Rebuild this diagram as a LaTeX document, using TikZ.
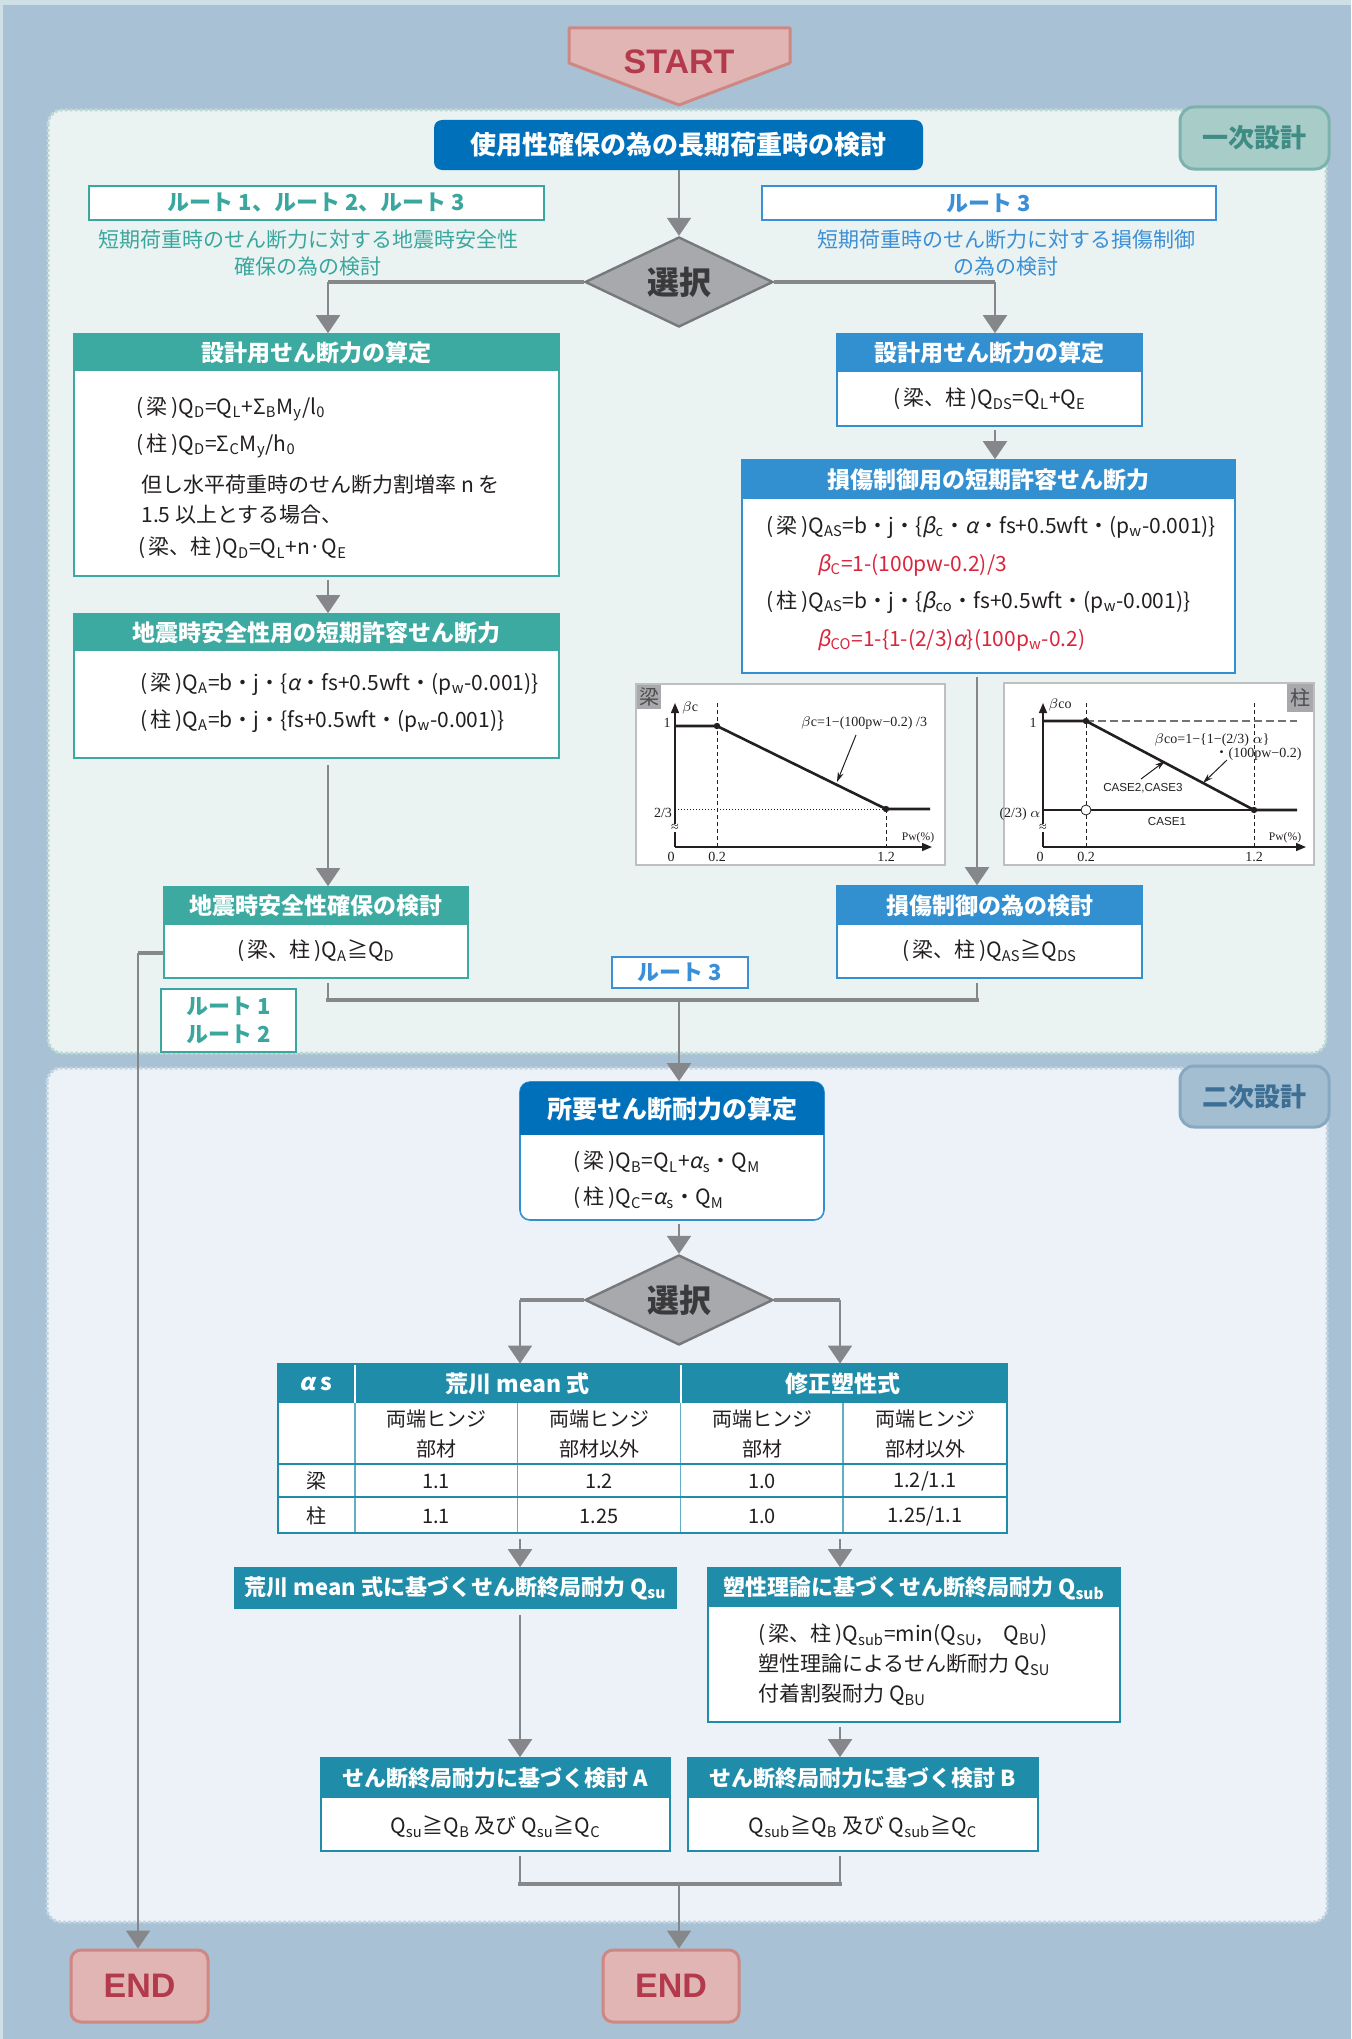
\documentclass[tikz,border=0pt]{standalone}
\usepackage{fontspec}
\setmainfont{Noto Sans CJK JP}
\newfontfamily\jpit[FakeSlant=0.2]{Noto Sans CJK JP}
\newfontfamily\gser{Liberation Serif}
\newfontfamily\lsans{Liberation Sans}
\usetikzlibrary{shapes.geometric,arrows.meta,fit,calc}
\newcommand\sbs[1]{\textsubscript{#1}}
\newcommand\gk[1]{{\jpit #1}}
\definecolor{bgc}{HTML}{A9C1D4}
\definecolor{bgtop}{HTML}{CEDFE6}
\definecolor{sec1}{HTML}{EAF3F2}
\definecolor{sec1b}{HTML}{BCD9D5}
\definecolor{sec2}{HTML}{ECF2F7}
\definecolor{sec2b}{HTML}{C3D5E2}
\definecolor{tealh}{HTML}{3DAAA2}
\definecolor{tealt}{HTML}{3AA79E}
\definecolor{blueh}{HTML}{3390D0}
\definecolor{bluet}{HTML}{3A8FD6}
\definecolor{dblue}{HTML}{0070BA}
\definecolor{tbh}{HTML}{1F8CA9}
\definecolor{arr}{HTML}{86878A}
\definecolor{dia}{HTML}{A7A9AC}
\definecolor{diab}{HTML}{77787B}
\definecolor{dtxt}{HTML}{3A3A3C}
\definecolor{pinkf}{HTML}{E0B5B3}
\definecolor{pinkb}{HTML}{CF8783}
\definecolor{pinkt}{HTML}{B23A4C}
\definecolor{lab1f}{HTML}{A8CCC8}
\definecolor{lab1b}{HTML}{7BB3AC}
\definecolor{lab1t}{HTML}{3F8C85}
\definecolor{lab2f}{HTML}{A4BED1}
\definecolor{lab2b}{HTML}{86A8C1}
\definecolor{lab2t}{HTML}{3D6E94}
\definecolor{redf}{HTML}{D7263D}
\definecolor{txt}{HTML}{231F20}
\definecolor{graybox}{HTML}{A7A9AC}
\newcommand\dbox[7]{%
  \node[fit={(#2,#3)(#4,#5)},inner sep=0pt,fill=white,draw=#7,line width=0.8pt] (#1) {};
  \fill[#7] (#2,#3) rectangle (#4,#6);}
\begin{document}
\begin{tikzpicture}[x=0.5pt,y=-0.5pt,
  conn/.style={draw=arr,line width=1pt},
  arrow/.style={conn,-{Triangle[width=12pt,length=9pt]}},
  bar/.style={draw=arr,line width=2pt},
  hdrtxt/.style={text=white,font=\bfseries\fontsize{11.5}{13}\selectfont},
  bt/.style={anchor=west,inner sep=0pt,text=txt,font=\fontsize{10.5}{12}\selectfont},
  ct/.style={inner sep=0pt,text=txt,font=\fontsize{10.5}{12}\selectfont},
  gt/.style={inner sep=0pt,font=\gser\fontsize{7}{8}\selectfont,text=txt},
  gs/.style={inner sep=0pt,font=\lsans\fontsize{5.8}{6.5}\selectfont,text=txt},
  gline/.style={line width=1.3pt,draw=txt},
  gdash/.style={draw=txt,line width=0.4pt,dash pattern=on 2pt off 1.5pt},
  gax/.style={draw=txt,line width=0.7pt,-{Triangle[width=4pt,length=5pt]}},
  gann/.style={draw=txt,line width=0.5pt,-{Stealth[length=5pt,width=3pt]}},
  rlab/.style={inner sep=0pt,fill=white,line width=1.2pt},
  rtxt/.style={inner sep=0pt,font=\bfseries\fontsize{11}{14}\selectfont,align=center},
  tcell/.style={inner sep=0pt,text=txt,font=\fontsize{10}{15}\selectfont,align=center},
  dia/.style={diamond,shape aspect=2,inner sep=0pt,minimum width=94pt,minimum height=45pt,fill=dia,draw=diab,line width=1.2pt,text=dtxt,font=\bfseries\fontsize{16}{16}\selectfont},
  endbox/.style={inner sep=0pt,fill=pinkf,draw=pinkb,line width=1.5pt,rounded corners=5pt},
  endtxt/.style={text=pinkt,font=\lsans\bfseries\fontsize{17}{17}\selectfont}
  ]
\useasboundingbox (0,0) rectangle (1351,2039);
\fill[bgc] (0,0) rectangle (1351,2039);
\fill[bgtop] (0,0) rectangle (1351,5);
\fill[bgtop] (0,0) rectangle (3,2039);
% panels
\path[fill=sec1,draw=sec1b,line width=1.5pt,dash pattern=on 1.5pt off 1pt,rounded corners=7pt] (48,110) rectangle (1326,1053);
\path[fill=sec2,draw=sec2b,line width=1.5pt,dash pattern=on 1.5pt off 1pt,rounded corners=7pt] (47,1068) rectangle (1327,1922);
\node[fit={(1180,107)(1329,169)},inner sep=0pt,fill=lab1f,draw=lab1b,line width=1.5pt,rounded corners=7pt] (lab1) {};
\node[text=lab1t,font=\bfseries\fontsize{13}{15}\selectfont] (lab1t) at (lab1.center) {一次設計};
\node[fit={(1180,1066)(1329,1127)},inner sep=0pt,fill=lab2f,draw=lab2b,line width=1.5pt,rounded corners=7pt] (lab2) {};
\node[text=lab2t,font=\bfseries\fontsize{13}{15}\selectfont] (lab2t) at (lab2.center) {二次設計};
% START
\path[fill=pinkf,draw=pinkb,line width=1.5pt,line join=round] (569,28) -- (790,28) -- (790,63) -- (679,105) -- (569,63) -- cycle;
\node[text=pinkt,font=\lsans\bfseries\fontsize{17}{17}\selectfont] (start) at (679,62) {START};
% main header
\node[fit={(434,120)(923,170)},inner sep=0pt,fill=dblue,rounded corners=4pt] (hdr) {};
\node[text=white,font=\bfseries\fontsize{13}{15}\selectfont] (hdrt) at (hdr.center) {使用性確保の為の長期荷重時の検討};
% route labels
\node[rlab,fit={(89,186)(544,220)},draw=tealt] (rl1) {};
\node[rtxt,text=tealt] (rl1t) at (rl1.center) {ルート 1、ルート 2、ルート 3};
\node[rlab,fit={(762,186)(1216,220)},draw=bluet] (rl2) {};
\node[rtxt,text=bluet] (rl2t) at (rl2.center) {ルート 3};
\node[text=tealt,font=\fontsize{10.5}{13.5}\selectfont,align=center,inner sep=0pt] (ds1) at (308,253) {短期荷重時のせん断力に対する地震時安全性\\確保の為の検討};
\node[text=bluet,font=\fontsize{10.5}{13.5}\selectfont,align=center,inner sep=0pt] (ds2) at (1006,253) {短期荷重時のせん断力に対する損傷制御\\の為の検討};
\node[dia] (d1) at (679,282) {選択};
% left column
\dbox{lb1}{74}{334}{559}{576}{371}{tealh}
\node[hdrtxt] (lb1h) at (316.5,352.5) {設計用せん断力の算定};
\node[bt] (lb1a) at (136,409) {(\,梁\,)Q\sbs{D}=Q\sbs{L}+Σ\sbs{B}M\sbs{y}/l\sbs{0}};
\node[bt] (lb1b) at (136,446) {(\,柱\,)Q\sbs{D}=Σ\sbs{C}M\sbs{y}/h\sbs{0}};
\node[bt] (lb1c) at (141,485) {但し水平荷重時のせん断力割増率 n を};
\node[bt] (lb1d) at (141,515) {1.5 以上とする場合、};
\node[bt] (lb1e) at (138,548) {(\,梁、柱\,)Q\sbs{D}=Q\sbs{L}+n·Q\sbs{E}};
\dbox{lb2}{74}{614}{559}{758}{651}{tealh}
\node[hdrtxt] (lb2h) at (316.5,632.5) {地震時安全性用の短期許容せん断力};
\node[bt] (lb2a) at (140,684) {(\,梁\,)Q\sbs{A}=b・j・\{\gk{α}・fs+0.5wft・(p\sbs{w}-0.001)\}};
\node[bt] (lb2b) at (140,721) {(\,柱\,)Q\sbs{A}=b・j・\{fs+0.5wft・(p\sbs{w}-0.001)\}};
\dbox{lb3}{164}{887}{468}{978}{925}{tealh}
\node[hdrtxt] (lb3h) at (316,906) {地震時安全性確保の検討};
\node[ct] (lb3a) at (316,951) {(\,梁、柱\,)Q\sbs{A}≧Q\sbs{D}};
% right column
\dbox{rb1}{837}{334}{1142}{426}{372}{blueh}
\node[hdrtxt] (rb1h) at (989.5,353) {設計用せん断力の算定};
\node[ct] (rb1a) at (989.5,399) {(\,梁、柱\,)Q\sbs{DS}=Q\sbs{L}+Q\sbs{E}};
\dbox{rb2}{742}{460}{1235}{673}{499}{blueh}
\node[hdrtxt] (rb2h) at (988.5,479.5) {損傷制御用の短期許容せん断力};
\node[bt] (rb2a) at (766,527) {(\,梁\,)Q\sbs{AS}=b・j・\{\gk{β}\sbs{c}・\gk{α}・fs+0.5wft・(p\sbs{w}-0.001)\}};
\node[bt,text=redf] (rb2b) at (817,565) {\gk{β}\sbs{C}=1-(100pw-0.2)/3};
\node[bt] (rb2c) at (766,602) {(\,柱\,)Q\sbs{AS}=b・j・\{\gk{β}\sbs{co}・fs+0.5wft・(p\sbs{w}-0.001)\}};
\node[bt,text=redf] (rb2d) at (817,640) {\gk{β}\sbs{CO}=1-\{1-(2/3)\gk{α}\}(100p\sbs{w}-0.2)};
\dbox{rb3}{837}{886}{1142}{978}{925}{blueh}
\node[hdrtxt] (rb3h) at (989.5,905.5) {損傷制御の為の検討};
\node[ct] (rb3a) at (989.5,951) {(\,梁、柱\,)Q\sbs{AS}≧Q\sbs{DS}};
\node[rlab,fit={(612,957)(748,988)},draw=bluet] (rl3) {};
\node[rtxt,text=bluet] (rl3t) at (rl3.center) {ルート 3};
\node[rlab,fit={(161,989)(296,1052)},draw=tealt] (rl4) {};
\node[rtxt,text=tealt] (rl4t) at (rl4.center) {ルート 1\\ルート 2};
% graph 1 (beam)
\node[fit={(636,684)(945,865)},inner sep=0pt,fill=white,draw=black!25,line width=1pt] (g1) {};
\node[fit={(637,685)(661,709)},inner sep=0pt,fill=graybox] (g1t) {};
\node[text=txt!80,font=\fontsize{10}{10}\selectfont,inner sep=0pt] (g1tt) at (g1t.center) {梁};
\draw[gdash] (717,703) -- (717,847);
\draw[draw=txt,line width=0.5pt,densely dotted] (675,809) -- (886,809);
\draw[gdash] (886,809) -- (886,847);
\draw[gax] (675,847) -- (675,703);
\draw[gax] (675,847) -- (932,847);
\draw[gline] (675,726) -- (717,726) -- (886,809) -- (930,809);
\fill[txt] (717,726) circle (1.6pt);
\fill[txt] (886,809) circle (1.6pt);
\node[gt] (g1a) at (690,708) {$\beta$c};
\node[gt] (g1b) at (667,723) {1};
\node[gt] (g1c) at (663,813) {2/3};
\node[gt,fill=white,inner sep=0.3pt] (g1d) at (675,828) {≈};
\node[gt] (g1e) at (671,857) {0};
\node[gt] (g1f) at (717,857) {0.2};
\node[gt] (g1g) at (886,857) {1.2};
\node[gt,font=\gser\fontsize{5.8}{6}\selectfont] (g1h) at (918,838) {Pw(\%)};
\node[gt] (g1i) at (864,723) {$\beta$c=1−(100pw−0.2) /3};
\draw[gann] (856,735) -- (837,782);
% graph 2 (column)
\node[fit={(1004,683)(1314,865)},inner sep=0pt,fill=white,draw=black!25,line width=1pt] (g2) {};
\node[fit={(1287,684)(1313,712)},inner sep=0pt,fill=graybox] (g2t) {};
\node[text=txt!80,font=\fontsize{10}{10}\selectfont,inner sep=0pt] (g2tt) at (g2t.center) {柱};
\draw[gdash] (1086,703) -- (1086,847);
\draw[gdash] (1254,703) -- (1254,847);
\draw[draw=black!55,line width=0.6pt,dash pattern=on 4pt off 2pt] (1086,721) -- (1297,721);
\draw[draw=txt,line width=0.6pt] (1043,810) -- (1254,810);
\draw[gax] (1043,847) -- (1043,703);
\draw[gax] (1043,847) -- (1306,847);
\draw[gline] (1043,721) -- (1086,721) -- (1254,810) -- (1297,810);
\fill[txt] (1086,721) circle (1.6pt);
\fill[txt] (1254,810) circle (1.6pt);
\draw[draw=txt,fill=white,line width=0.4pt] (1086,810) circle (2.5pt);
\node[gt] (g2a) at (1060,705) {$\beta$co};
\node[gt] (g2b) at (1033,723) {1};
\node[gt,anchor=east] (g2c) at (1041,814) {(2/3) $\alpha$};
\node[gt,fill=white,inner sep=0.3pt] (g2d) at (1043,828) {≈};
\node[gt] (g2e) at (1040,857) {0};
\node[gt] (g2f) at (1086,857) {0.2};
\node[gt] (g2g) at (1254,857) {1.2};
\node[gt,font=\gser\fontsize{5.8}{6}\selectfont] (g2h) at (1285,838) {Pw(\%)};
\node[gs] (g2i) at (1167,821) {CASE1};
\node[gs] (g2j) at (1143,788) {CASE2,CASE3};
\node[gt] (g2k) at (1212,740) {$\beta$co=1−\{1−(2/3) $\alpha$\}};
\node[gt] (g2l) at (1258,754) {{\rmfamily ・}(100pw−0.2)};
\draw[gann] (1141,779) -- (1165,761);
\draw[gann] (1227,760) -- (1203,783);
% section 2 box
\node[fit={(520,1082)(824,1220)},inner sep=0pt,fill=white,draw=blueh,line width=0.8pt,rounded corners=5pt] (s2) {};
\begin{scope}
\clip[rounded corners=5pt] (520,1082) rectangle (824,1220);
\fill[dblue] (520,1082) rectangle (824,1135);
\end{scope}
\node[hdrtxt,font=\bfseries\fontsize{12.5}{14}\selectfont] (s2h) at (672,1109) {所要せん断耐力の算定};
\node[bt] (s2a) at (573,1162) {(\,梁\,)Q\sbs{B}=Q\sbs{L}+\gk{α}\sbs{s}・Q\sbs{M}};
\node[bt] (s2b) at (573,1198) {(\,柱\,)Q\sbs{C}=\gk{α}\sbs{s}・Q\sbs{M}};
\node[dia] (d2) at (679,1300) {選択};
% table
\node[fit={(277.5,1364)(1006.5,1533)},inner sep=0pt,fill=white] (tbl) {};
\fill[tbh] (277.5,1364) rectangle (1006.5,1403);
\draw[white,line width=1pt] (355,1364) -- (355,1403);
\draw[white,line width=1pt] (680.5,1364) -- (680.5,1403);
\draw[tbh!70,line width=0.6pt] (355,1403) -- (355,1533);
\draw[tbh!70,line width=0.6pt] (517.5,1403) -- (517.5,1533);
\draw[tbh!70,line width=0.6pt] (680.5,1403) -- (680.5,1533);
\draw[tbh!70,line width=0.6pt] (843,1403) -- (843,1533);
\draw[tbh,line width=1.4pt] (277.5,1464) -- (1006.5,1464);
\draw[tbh,line width=1.4pt] (277.5,1497) -- (1006.5,1497);
\draw[tbh,line width=1pt] (277.5,1364) rectangle (1006.5,1533);
\node[tcell,text=white,font=\bfseries\fontsize{11.5}{13}\selectfont] (th1) at (316,1384) {\gk{α} s};
\node[tcell,text=white,font=\bfseries\fontsize{11.5}{13}\selectfont] (th2) at (517.5,1384) {荒川 mean 式};
\node[tcell,text=white,font=\bfseries\fontsize{11.5}{13}\selectfont] (th3) at (843,1384) {修正塑性式};
\node[tcell] (ts1) at (436,1434) {両端ヒンジ\\部材};
\node[tcell] (ts2) at (599,1434) {両端ヒンジ\\部材以外};
\node[tcell] (ts3) at (762,1434) {両端ヒンジ\\部材};
\node[tcell] (ts4) at (925,1434) {両端ヒンジ\\部材以外};
\node[tcell] (tr1) at (316,1481) {梁};
\node[tcell] (tr2) at (436,1481) {1.1};
\node[tcell] (tr3) at (599,1481) {1.2};
\node[tcell] (tr4) at (762,1481) {1.0};
\node[tcell] (tr5) at (925,1481) {1.2/1.1};
\node[tcell] (tc1) at (316,1516) {柱};
\node[tcell] (tc2) at (436,1516) {1.1};
\node[tcell] (tc3) at (599,1516) {1.25};
\node[tcell] (tc4) at (762,1516) {1.0};
\node[tcell] (tc5) at (925,1516) {1.25/1.1};
% ultimate strength boxes
\node[fit={(235,1568)(676,1608)},inner sep=0pt,fill=tbh,draw=tbh,line width=0.8pt] (ba1) {};
\node[hdrtxt,font=\bfseries\fontsize{11}{13}\selectfont] (ba1h) at (455.5,1588) {荒川 mean 式に基づくせん断終局耐力 Q\sbs{su}};
\dbox{bb1}{708}{1568}{1120}{1722}{1607}{tbh}
\node[hdrtxt,font=\bfseries\fontsize{11}{13}\selectfont] (bb1h) at (914,1588) {塑性理論に基づくせん断終局耐力 Q\sbs{sub}};
\node[bt] (bb1a) at (758,1635) {(\,梁、柱\,)Q\sbs{sub}=min(Q\sbs{SU},\quad Q\sbs{BU})};
\node[bt] (bb1b) at (758,1665) {塑性理論によるせん断耐力 Q\sbs{SU}};
\node[bt] (bb1c) at (758,1695) {付着割裂耐力 Q\sbs{BU}};
\dbox{bxa}{321}{1758}{670}{1851}{1798}{tbh}
\node[hdrtxt,font=\bfseries\fontsize{11}{13}\selectfont] (bxah) at (495.5,1778) {せん断終局耐力に基づく検討 A};
\node[ct] (bxaa) at (495.5,1827) {Q\sbs{su}≧Q\sbs{B} 及び Q\sbs{su}≧Q\sbs{C}};
\dbox{bxb}{688}{1758}{1038}{1851}{1798}{tbh}
\node[hdrtxt,font=\bfseries\fontsize{11}{13}\selectfont] (bxbh) at (863,1778) {せん断終局耐力に基づく検討 B};
\node[ct] (bxba) at (863,1827) {Q\sbs{sub}≧Q\sbs{B} 及び Q\sbs{sub}≧Q\sbs{C}};
% END boxes
\node[endbox,fit={(71,1950)(208,2022)}] (end1) {};
\node[endtxt] (end1t) at (end1.center) {END};
\node[endbox,fit={(603,1950)(739,2022)}] (end2) {};
\node[endtxt] (end2t) at (end2.center) {END};
% connector columns
\coordinate (cL) at (328,0);
\coordinate (cR) at (995,0);
\coordinate (cR2) at (977,0);
\coordinate (cM) at (679,0);
\coordinate (cA) at (520,0);
\coordinate (cB) at (840,0);
\coordinate (cE) at (138,0);
\coordinate (yM1) at (0,1000);
\coordinate (yLE) at (0,953);
\coordinate (yM2) at (0,1884);
% connectors
\draw[arrow] (hdr.south -| cM) -- (d1.north);
\draw[bar] (d1.west) -- (d1.west -| cL);
\draw[arrow] (d1.west -| cL) -- (lb1.north -| cL);
\draw[bar] (d1.east) -- (d1.east -| cR);
\draw[arrow] (d1.east -| cR) -- (rb1.north -| cR);
\draw[arrow,shorten <=1.5pt] (lb1.south -| cL) -- (lb2.north -| cL);
\draw[arrow,shorten <=3pt] (lb2.south -| cL) -- (lb3.north -| cL);
\draw[arrow,shorten <=1.5pt] (rb1.south -| cR) -- (rb2.north -| cR);
\draw[arrow,shorten <=1.5pt] (rb2.south -| cR2) -- (rb3.north -| cR2);
\draw[conn,shorten <=2pt] (lb3.south -| cL) -- (yM1 -| cL);
\draw[conn,shorten <=2pt] (rb3.south -| cR2) -- (yM1 -| cR2);
\draw[bar,line cap=rect] (yM1 -| cL) -- (yM1 -| cR2);
\draw[arrow] (yM1 -| cM) -- (s2.north -| cM);
\draw[bar] (lb3.west |- yLE) -- (cE |- yLE);
\draw[arrow] (cE |- yLE) -- (end1.north -| cE);
\draw[arrow,shorten <=1.5pt] (s2.south -| cM) -- (d2.north);
\draw[bar] (d2.west) -- (d2.west -| cA);
\draw[arrow] (d2.west -| cA) -- (tbl.north -| cA);
\draw[bar] (d2.east) -- (d2.east -| cB);
\draw[arrow] (d2.east -| cB) -- (tbl.north -| cB);
\draw[arrow,shorten <=3pt] (tbl.south -| cA) -- (ba1.north -| cA);
\draw[arrow,shorten <=3pt] (tbl.south -| cB) -- (bb1.north -| cB);
\draw[arrow,shorten <=3pt] (ba1.south -| cA) -- (bxa.north -| cA);
\draw[arrow,shorten <=2pt] (bb1.south -| cB) -- (bxb.north -| cB);
\draw[conn,shorten <=2pt] (bxa.south -| cA) -- (yM2 -| cA);
\draw[conn,shorten <=2pt] (bxb.south -| cB) -- (yM2 -| cB);
\draw[bar,line cap=rect] (yM2 -| cA) -- (yM2 -| cB);
\draw[arrow] (yM2 -| cM) -- (end2.north -| cM);
\end{tikzpicture}
\end{document}
